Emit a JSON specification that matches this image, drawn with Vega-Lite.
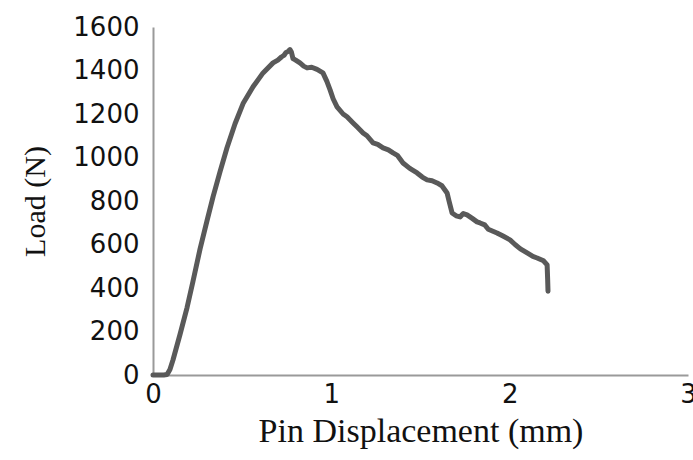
{
  "$schema": "https://vega.github.io/schema/vega-lite/v6.json",
  "autosize": "none",
  "width": 535,
  "height": 348,
  "padding": {"left": 153, "top": 27, "right": 5, "bottom": 85},
  "background": "white",
  "data": {
    "values": [
      {"x": 0, "y": 0}, {"x": 0.06, "y": 0}, {"x": 0.079, "y": 2}, {"x": 0.095, "y": 25},
      {"x": 0.112, "y": 69}, {"x": 0.151, "y": 185}, {"x": 0.191, "y": 310}, {"x": 0.224, "y": 430},
      {"x": 0.264, "y": 580}, {"x": 0.303, "y": 710}, {"x": 0.337, "y": 820}, {"x": 0.376, "y": 935},
      {"x": 0.415, "y": 1045}, {"x": 0.46, "y": 1155}, {"x": 0.505, "y": 1248}, {"x": 0.561, "y": 1325},
      {"x": 0.617, "y": 1389}, {"x": 0.673, "y": 1435}, {"x": 0.7, "y": 1448}, {"x": 0.72, "y": 1462},
      {"x": 0.735, "y": 1470}, {"x": 0.745, "y": 1482}, {"x": 0.758, "y": 1488}, {"x": 0.768, "y": 1496},
      {"x": 0.776, "y": 1485}, {"x": 0.785, "y": 1455}, {"x": 0.8, "y": 1448}, {"x": 0.824, "y": 1435},
      {"x": 0.845, "y": 1420}, {"x": 0.864, "y": 1412}, {"x": 0.89, "y": 1415}, {"x": 0.92, "y": 1405},
      {"x": 0.953, "y": 1389},
      {"x": 0.975, "y": 1350}, {"x": 0.993, "y": 1311}, {"x": 1.01, "y": 1270}, {"x": 1.032, "y": 1233},
      {"x": 1.066, "y": 1200}, {"x": 1.088, "y": 1187}, {"x": 1.122, "y": 1159}, {"x": 1.144, "y": 1141},
      {"x": 1.178, "y": 1113}, {"x": 1.2, "y": 1100}, {"x": 1.234, "y": 1067}, {"x": 1.26, "y": 1060},
      {"x": 1.29, "y": 1044}, {"x": 1.32, "y": 1035}, {"x": 1.346, "y": 1021}, {"x": 1.37, "y": 1010},
      {"x": 1.402, "y": 975}, {"x": 1.44, "y": 950}, {"x": 1.481, "y": 929}, {"x": 1.51, "y": 910},
      {"x": 1.537, "y": 897}, {"x": 1.565, "y": 893}, {"x": 1.593, "y": 883}, {"x": 1.62, "y": 870},
      {"x": 1.649, "y": 837}, {"x": 1.66, "y": 800}, {"x": 1.677, "y": 745}, {"x": 1.7, "y": 732},
      {"x": 1.722, "y": 727}, {"x": 1.74, "y": 742}, {"x": 1.761, "y": 736}, {"x": 1.79, "y": 720},
      {"x": 1.817, "y": 704}, {"x": 1.834, "y": 699}, {"x": 1.86, "y": 690}, {"x": 1.88, "y": 670},
      {"x": 1.929, "y": 653}, {"x": 1.96, "y": 640}, {"x": 2.002, "y": 621}, {"x": 2.03, "y": 600},
      {"x": 2.06, "y": 580}, {"x": 2.098, "y": 561}, {"x": 2.13, "y": 545}, {"x": 2.154, "y": 538},
      {"x": 2.19, "y": 525}, {"x": 2.21, "y": 506}, {"x": 2.213, "y": 440}, {"x": 2.215, "y": 385}
    ]
  },
  "mark": {"type": "line", "color": "#595959", "strokeWidth": 5, "strokeJoin": "round", "strokeCap": "round", "interpolate": "linear"},
  "encoding": {
    "x": {
      "field": "x", "type": "quantitative", "sort": null,
      "scale": {"domain": [0, 3], "nice": false, "zero": true},
      "axis": {"values": [0, 1, 2, 3], "format": "d", "title": "Pin Displacement (mm)", "grid": false, "ticks": false,
        "labelFont": "DejaVu Sans", "labelFontSize": 26, "labelColor": "#111", "labelPadding": 6,
        "labelFlush": false, "labelOverlap": false,
        "titleFont": "Liberation Serif", "titleFontSize": 34, "titleFontWeight": "normal", "titleColor": "#111", "titlePadding": 7,
        "domainColor": "#9a9a9a", "domainWidth": 2}
    },
    "y": {
      "field": "y", "type": "quantitative",
      "scale": {"domain": [0, 1600], "nice": false},
      "axis": {"values": [0, 200, 400, 600, 800, 1000, 1200, 1400, 1600], "format": "d", "title": "Load (N)", "grid": false, "ticks": false,
        "labelFont": "DejaVu Sans", "labelFontSize": 26, "labelColor": "#111", "labelPadding": 14,
        "labelFlush": false, "labelOverlap": false,
        "titleFont": "Liberation Serif", "titleFontSize": 30, "titleFontWeight": "normal", "titleColor": "#111", "titlePadding": 22,
        "domainColor": "#9a9a9a", "domainWidth": 2}
    }
  },
  "config": {"view": {"stroke": null}}
}
